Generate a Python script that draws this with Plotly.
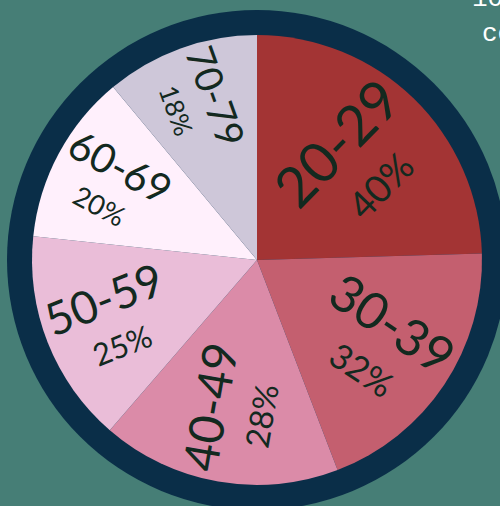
import plotly.graph_objects as go

labels = ["20-29", "30-39", "40-49", "50-59", "60-69", "70-79"]
values = [40, 32, 28, 25, 20, 18]
pct_text = ["40%", "32%", "28%", "25%", "20%", "18%"]
colors = ["#a33434", "#c45f6f", "#db8ba8", "#eabdd8", "#fff0fc", "#cec7d9"]
title_lines = ["10 age groups", "cohorts"]

W, H = 500, 506
cx, cy, r = 257, 260, 225
ring_r = 250

fig = go.Figure()
fig.add_trace(go.Pie(
    labels=labels,
    values=values,
    text=pct_text,
    sort=False,
    direction="clockwise",
    rotation=0,
    marker=dict(colors=colors, line=dict(width=0)),
    texttemplate="<span style='font-size:56px'>%{label}</span><br><span style='font-size:38px'>%{text}</span>",
    textposition="inside",
    insidetextorientation="radial",
    insidetextfont=dict(family="Lato", color="#13291f", size=42),
    hoverinfo="skip",
    showlegend=False,
    domain=dict(x=[(cx - r) / W, (cx + r) / W], y=[1 - (cy + r) / H, 1 - (cy - r) / H]),
))

fig.add_shape(type="circle", xref="paper", yref="paper",
              x0=(cx - ring_r) / W, x1=(cx + ring_r) / W,
              y0=1 - (cy + ring_r) / H, y1=1 - (cy - ring_r) / H,
              fillcolor="#0a2e48", line=dict(width=0), layer="below")

fig.add_annotation(text=title_lines[0], xref="paper", yref="paper",
                   x=470 / W, y=1 + 18 / H, xanchor="left", yanchor="top", align="left",
                   showarrow=False, font=dict(family="Liberation Mono", size=26, color="#ffffff"))
fig.add_annotation(text=title_lines[1], xref="paper", yref="paper",
                   x=480 / W, y=1 - 17 / H, xanchor="left", yanchor="top", align="left",
                   showarrow=False, font=dict(family="Liberation Mono", size=26, color="#ffffff"))

fig.update_layout(width=W, height=H, margin=dict(l=0, r=0, t=0, b=0),
                  paper_bgcolor="#467e76", plot_bgcolor="#467e76")

fig.write_html("out.html")
